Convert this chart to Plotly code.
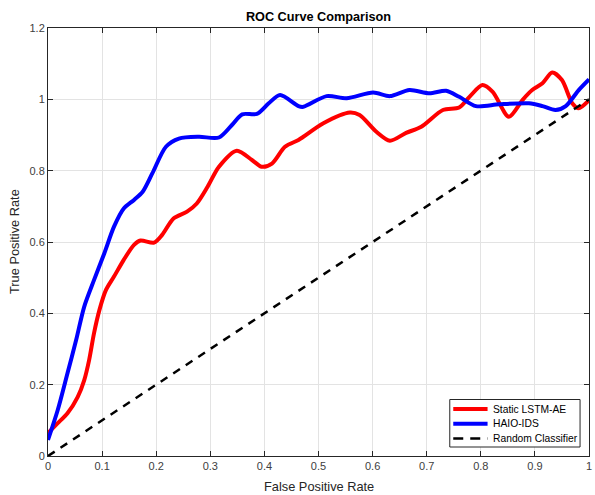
import plotly.graph_objects as go

red_x = [0.0, 0.018, 0.036, 0.055, 0.067, 0.076, 0.085, 0.095, 0.107, 0.122, 0.140, 0.159, 0.171,
         0.196, 0.211, 0.232, 0.257, 0.275, 0.295, 0.316, 0.349, 0.377, 0.395, 0.414, 0.438, 0.463,
         0.472, 0.509, 0.558, 0.576, 0.607, 0.632, 0.662, 0.690, 0.730, 0.760, 0.779, 0.803, 0.822,
         0.852, 0.877, 0.895, 0.914, 0.932, 0.950, 0.969, 0.981, 1.0]
red_y = [0.064, 0.092, 0.12, 0.166, 0.213, 0.269, 0.344, 0.409, 0.465, 0.503, 0.55, 0.592, 0.604,
         0.598, 0.62, 0.666, 0.685, 0.708, 0.755, 0.811, 0.856, 0.83, 0.811, 0.82, 0.867, 0.886,
         0.895, 0.933, 0.963, 0.956, 0.909, 0.884, 0.906, 0.923, 0.970, 0.977, 1.007, 1.04, 1.021,
         0.951, 0.998, 1.026, 1.045, 1.075, 1.054, 0.989, 0.975, 0.998]

blue_x = [0.0, 0.018, 0.036, 0.052, 0.067, 0.085, 0.104, 0.122, 0.140, 0.159, 0.175, 0.193, 0.218,
          0.242, 0.279, 0.316, 0.34, 0.359, 0.386, 0.408, 0.429, 0.463, 0.472, 0.515, 0.552, 0.601,
          0.632, 0.668, 0.705, 0.736, 0.760, 0.791, 0.834, 0.889, 0.914, 0.938, 0.957, 0.981, 1.0]
blue_y = [0.045, 0.129, 0.232, 0.325, 0.419, 0.493, 0.568, 0.643, 0.694, 0.718, 0.741, 0.793, 0.867,
          0.89, 0.895, 0.893, 0.928, 0.958, 0.959, 0.989, 1.012, 0.981, 0.979, 1.009, 1.003, 1.019,
          1.009, 1.026, 1.017, 1.024, 1.007, 0.981, 0.986, 0.989, 0.981, 0.97, 0.981, 1.026, 1.056]

rand_x = [0, 1]
rand_y = [0, 1]

series_names = ["Static LSTM-AE", "HAIO-IDS", "Random Classifier"]

x_ticks = [0, 0.1, 0.2, 0.3, 0.4, 0.5, 0.6, 0.7, 0.8, 0.9, 1]
x_tick_text = ["0", "0.1", "0.2", "0.3", "0.4", "0.5", "0.6", "0.7", "0.8", "0.9", "1"]
y_ticks = [0, 0.2, 0.4, 0.6, 0.8, 1, 1.2]
y_tick_text = ["0", "0.2", "0.4", "0.6", "0.8", "1", "1.2"]

FONT = "Liberation Sans, Arial, sans-serif"
W, H = 595, 495
ML, MR, MT, MB = 48, 3, 28, 39
PW, PH = W - ML - MR, H - MT - MB

styles = [
    dict(color="#ff0000", width=4, shape="spline", smoothing=0.8),
    dict(color="#0000ff", width=4, shape="spline", smoothing=0.8),
    dict(color="#000000", width=2.5, dash="8px,7px"),
]

fig = go.Figure()
for xs, ys, name, st in zip([red_x, blue_x, rand_x], [red_y, blue_y, rand_y], series_names, styles):
    fig.add_trace(go.Scatter(x=xs, y=ys, mode="lines", name=name, line=st, showlegend=False))


def px(x):
    return (x - ML) / PW


def py(y):
    return (H - MB - y) / PH


# custom legend box (MATLAB style, compact rows)
shapes = [dict(type="rect", xref="paper", yref="paper",
               x0=px(452), x1=px(583), y0=py(447), y1=py(399.5),
               line=dict(color="#262626", width=1), fillcolor="white", layer="above")]
annotations = []
row_y = [409, 423.8, 438.6]
for name, st, ry in zip(series_names, styles, row_y):
    ln = dict(color=st["color"], width=st["width"])
    if "dash" in st:
        ln["dash"] = "10px,7px"
        ln["width"] = 2.5
    shapes.append(dict(type="line", xref="paper", yref="paper",
                       x0=px(455.5), x1=px(490), y0=py(ry), y1=py(ry), line=ln, layer="above"))
    annotations.append(dict(text=name, x=px(493.5), y=py(ry), xref="paper", yref="paper",
                            xanchor="left", yanchor="middle", showarrow=False,
                            font=dict(family=FONT, size=10.3, color="#000000")))

annotations += [
    dict(text="False Positive Rate", x=0.5, xref="paper", y=0, yref="paper",
         yanchor="middle", yshift=-30, showarrow=False,
         font=dict(family=FONT, size=12.8, color="#262626")),
    dict(text="True Positive Rate", x=0, xref="paper", y=0.5, yref="paper",
         xanchor="center", xshift=-34, textangle=-90, showarrow=False,
         font=dict(family=FONT, size=12.8, color="#262626")),
]

axis_common = dict(showline=True, linecolor="#262626", linewidth=1, mirror="ticks",
                   ticks="inside", ticklen=5, tickcolor="#262626",
                   showgrid=True, gridcolor="#e3e3e3", gridwidth=1, zeroline=False,
                   ticklabeloverflow="allow",
                   tickfont=dict(family=FONT, size=11, color="#404040"))

fig.update_layout(
    width=W, height=H,
    margin=dict(l=ML, r=MR, t=MT, b=MB),
    paper_bgcolor="white", plot_bgcolor="white",
    font=dict(family=FONT, size=11, color="#262626"),
    title=dict(text="<b>ROC Curve Comparison</b>", x=0.5, xanchor="center",
               xref="paper", y=1 - 16.5 / H, yref="container", yanchor="middle",
               font=dict(family=FONT, size=12.7, color="#000000")),
    xaxis=dict(range=[0, 1], tickvals=x_ticks, ticktext=x_tick_text, **axis_common),
    yaxis=dict(range=[0, 1.2], tickvals=y_ticks, ticktext=y_tick_text, **axis_common),
    showlegend=False,
    shapes=shapes,
    annotations=annotations,
)

fig.write_html("out.html")
